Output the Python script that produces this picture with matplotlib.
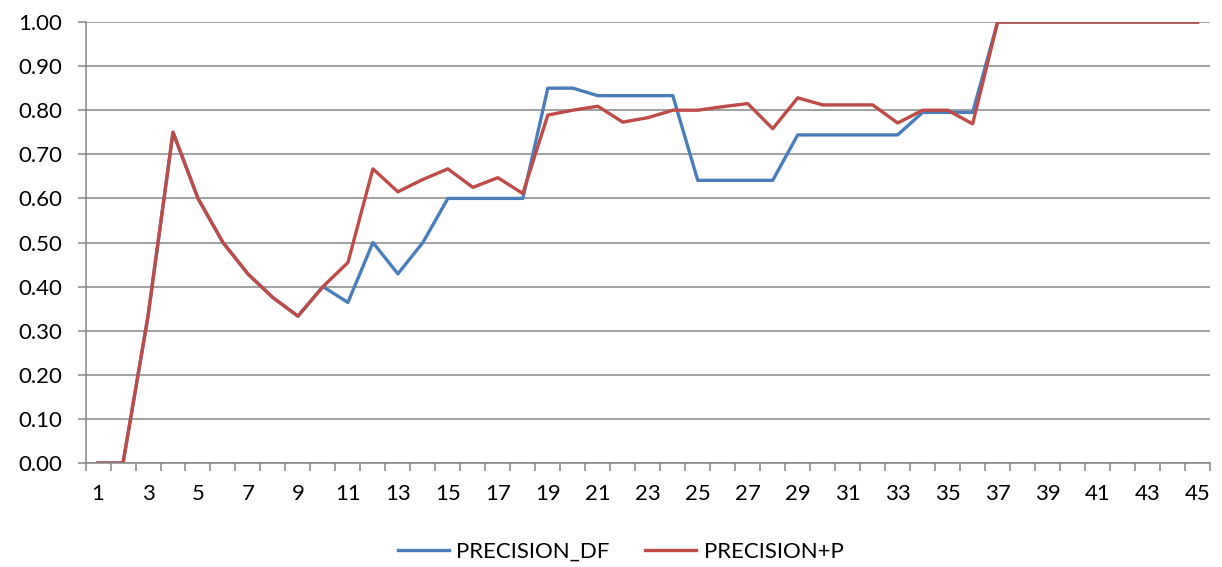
import matplotlib
matplotlib.use("Agg")
import matplotlib.pyplot as plt
from matplotlib.ticker import FixedLocator, NullFormatter

plt.rcParams['font.family'] = ['Lato', 'DejaVu Sans']

x = list(range(1, 46))
precision_df = [0, 0, 0.333, 0.75, 0.6, 0.5, 0.4286, 0.375, 0.333, 0.4,
                0.364, 0.5, 0.429, 0.5, 0.6, 0.6, 0.6, 0.6, 0.85, 0.85,
                0.833, 0.833, 0.833, 0.833, 0.641, 0.641, 0.641, 0.641, 0.744, 0.744,
                0.744, 0.744, 0.744, 0.795, 0.795, 0.795, 1.0, 1.0, 1.0, 1.0,
                1.0, 1.0, 1.0, 1.0, 1.0]
precision_p = [0, 0, 0.333, 0.75, 0.6, 0.5, 0.4286, 0.375, 0.333, 0.4,
               0.4545, 0.667, 0.615, 0.643, 0.667, 0.625, 0.647, 0.611, 0.789, 0.8,
               0.809, 0.773, 0.783, 0.8, 0.8, 0.808, 0.815, 0.758, 0.828, 0.812,
               0.812, 0.812, 0.771, 0.8, 0.8, 0.769, 1.0, 1.0, 1.0, 1.0,
               1.0, 1.0, 1.0, 1.0, 1.0]
y_ticks = [0.0, 0.1, 0.2, 0.3, 0.4, 0.5, 0.6, 0.7, 0.8, 0.9, 1.0]

fig = plt.figure(figsize=(12.22, 5.67), dpi=100)
ax = fig.add_axes([0.0700, 0.1834, 0.9202, 0.7778])

grey = '#868686'
fs = 16
ax.plot(x, precision_df, color='#4A7EBB', lw=2.4, label='PRECISION_DF', solid_joinstyle='round')
ax.plot(x, precision_p, color='#BE4B48', lw=2.4, label='PRECISION+P', solid_joinstyle='round')

ax.set_xlim(0.5, 45.5)
ax.set_ylim(0, 1.0)
ax.set_yticks(y_ticks)
ax.set_yticklabels([f"{v:.2f}" for v in y_ticks])
ax.yaxis.grid(True, color=grey, lw=1.1)
ax.set_axisbelow(True)

# category ticks between categories, labels at odd categories
ax.xaxis.set_major_locator(FixedLocator([v + 0.5 for v in [0] + x]))
ax.xaxis.set_major_formatter(NullFormatter())
ax.xaxis.set_minor_locator(FixedLocator(x[::2]))
ax.set_xticklabels([str(v) for v in x[::2]], minor=True)
ax.tick_params(axis='x', which='minor', length=0, pad=15, labelsize=fs)
ax.tick_params(axis='x', which='major', length=6, width=1.1, color=grey, direction='out')
ax.tick_params(axis='y', length=6, width=1.1, color=grey, direction='out', labelsize=fs, pad=11)

for side in ['top', 'right']:
    ax.spines[side].set_visible(False)
for side in ['left', 'bottom']:
    ax.spines[side].set_color(grey)
    ax.spines[side].set_linewidth(1.1)

leg = fig.legend(loc='center', bbox_to_anchor=(0.508, 0.027), ncol=2, frameon=False,
                 fontsize=fs, handlelength=2.3, columnspacing=1.6, handletextpad=0.35)

fig.savefig('out.png', dpi=100)
